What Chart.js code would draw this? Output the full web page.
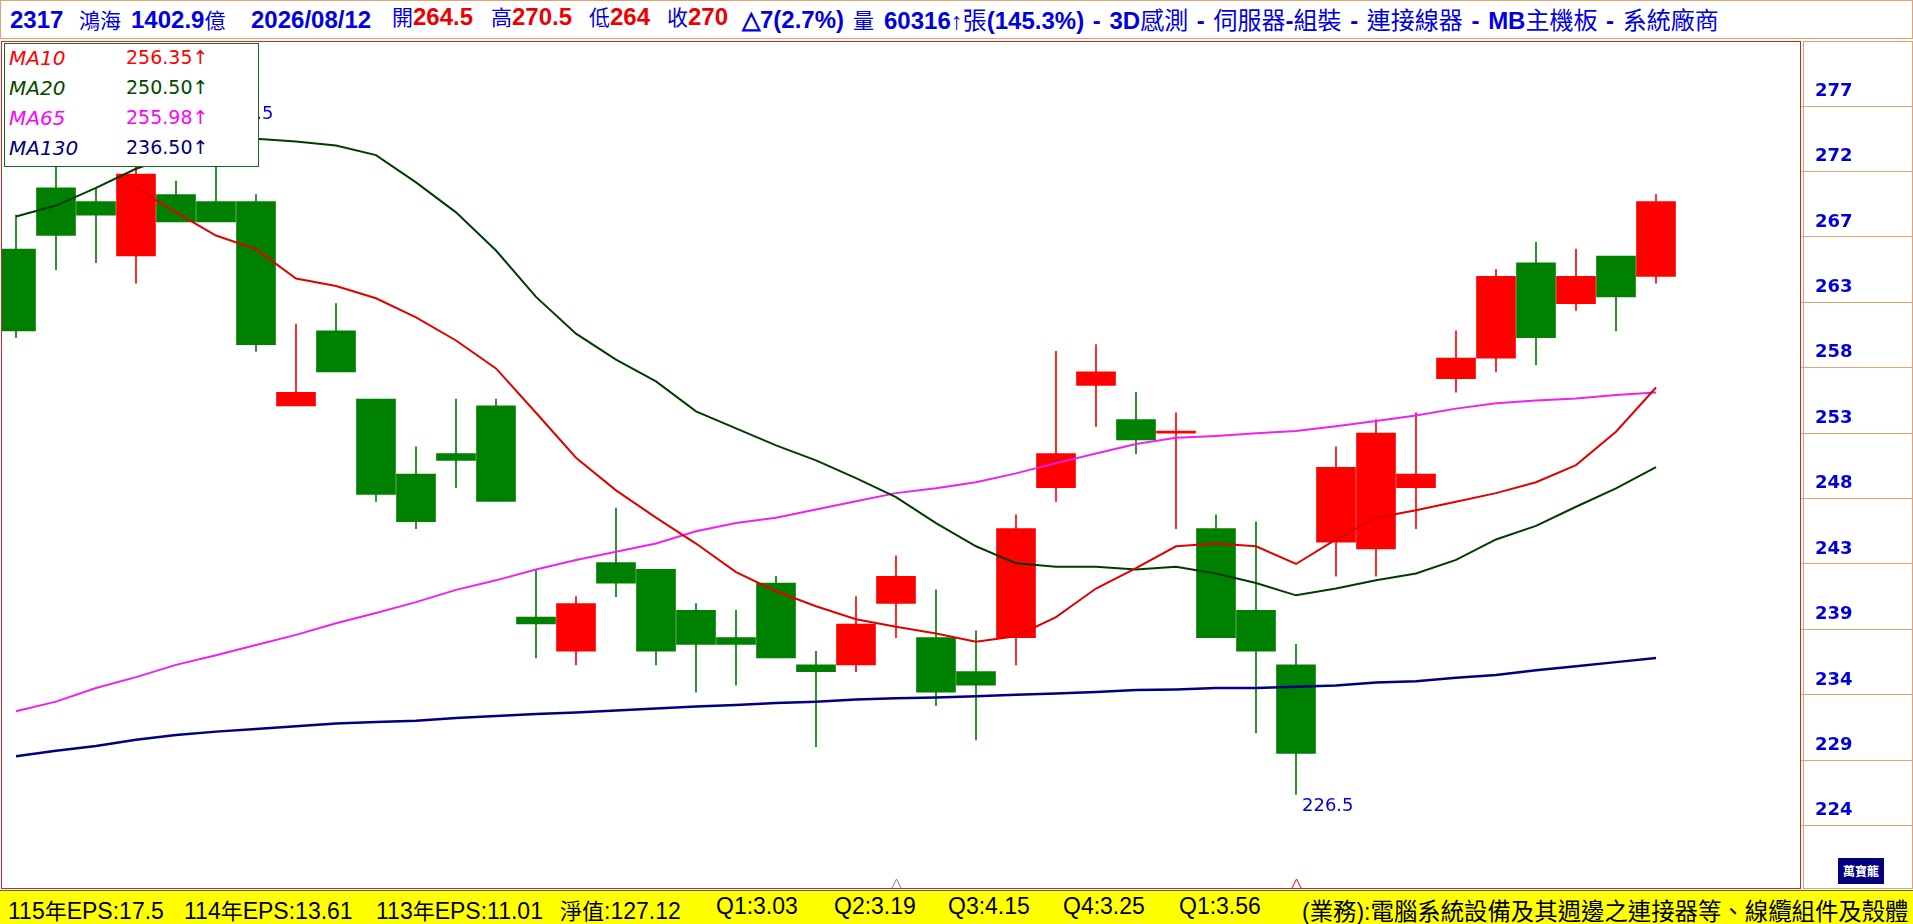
<!DOCTYPE html>
<html>
<head>
<meta charset="utf-8">
<script src="https://cdn.jsdelivr.net/npm/chart.js@4.4.1/dist/chart.umd.min.js"></script>
<style>
  html, body { margin: 0; padding: 0; background: #fff; }
  body { position: relative; width: 1913px; height: 924px; overflow: hidden; }
  #head { position: absolute; left: 0; top: 0; width: 1911px; height: 37px; border: 1px solid #e8a070; }
  #head > span { position: absolute; top: 0; line-height: 37px; white-space: pre; color: #0000e0; }
  .b { font: bold 24px "Liberation Sans", Arial, sans-serif; }
  .k { font: 21px "Noto Sans CJK TC", sans-serif; }
  .tail { word-spacing: 2px; }
  .tail .k { font-size: 24px; }
  .r { color: #ee0000; }
  #wrap { position: absolute; left: 0; top: 40px; width: 1913px; height: 850px; }
  #box { position: absolute; left: 1px; top: 41px; width: 1798px; height: 846px; border: 1px solid #c82828; pointer-events: none; }
  #axisbox { position: absolute; left: 1803px; top: 41px; width: 108px; height: 846px; border: 1px solid #e8a070; pointer-events: none; }
  #logo { position: absolute; left: 1838px; top: 858px; width: 46px; height: 26px; background: #000080; color: #fff;
          font: bold 12px "Noto Sans CJK TC", sans-serif; line-height: 26px; text-align: center; }
  #legend { position: absolute; left: 4px; top: 43px; width: 253px; height: 122px; border: 1px solid #1a6a1a; background: #fff; }
  #legend div { position: absolute; left: 0; height: 26px; line-height: 26px; width: 250px; white-space: pre; }
  #legend i { position: absolute; left: 4px; font: italic 20px "DejaVu Sans", sans-serif; }
  #legend b { position: absolute; left: 121px; font: 19px "DejaVu Sans", sans-serif; }
  #foot { position: absolute; left: 0; top: 890px; width: 1913px; height: 34px; background: #ffff00; border-top: 1px solid #606060; }
  #foot > span { position: absolute; top: 2px; line-height: 32px; white-space: pre; color: #000; font: 23px "Liberation Sans", Arial, sans-serif; }
  #foot .k { font: 22px "Noto Sans CJK TC", sans-serif; }
  #foot .biz .k { font-size: 23.4px; }
</style>
</head>
<body>
<div id="head">
  <span class="b" style="left:9px">2317</span>
  <span class="k" style="left:78px">鴻海</span>
  <span class="b" style="left:130px">1402.9<span class="k">億</span></span>
  <span class="b" style="left:250px">2026/08/12</span>
  <span style="left:391px"><span class="k">開</span><span class="b r">264.5</span></span>
  <span style="left:490px"><span class="k">高</span><span class="b r">270.5</span></span>
  <span style="left:588px"><span class="k">低</span><span class="b r">264</span></span>
  <span style="left:666px"><span class="k">收</span><span class="b r">270</span></span>
  <span class="b r" style="left:741px">△7(2.7%)</span>
  <span class="k" style="left:852px">量</span>
  <span class="tail" style="left:883px"><span class="b">60316↑</span><span class="k">張</span><span class="b">(145.3%) - 3D</span><span class="k">感測</span><span class="b"> - </span><span class="k">伺服器</span><span class="b">-</span><span class="k">組裝</span><span class="b"> - </span><span class="k">連接線器</span><span class="b"> - MB</span><span class="k">主機板</span><span class="b"> - </span><span class="k">系統廠商</span></span>
</div>

<div id="wrap"><canvas id="kchart" width="1913" height="850"></canvas></div>
<div id="box"></div>
<div id="axisbox"></div>
<div id="logo">萬寶龍</div>
<div id="legend"></div>

<div id="foot">
  <span style="left:8px">115<span class="k">年</span>EPS:17.5</span>
  <span style="left:184px">114<span class="k">年</span>EPS:13.61</span>
  <span style="left:376px">113<span class="k">年</span>EPS:11.01</span>
  <span style="left:560px"><span class="k">淨值</span>:127.12</span>
  <span style="left:716px">Q1:3.03</span>
  <span style="left:834px">Q2:3.19</span>
  <span style="left:948px">Q3:4.15</span>
  <span style="left:1063px">Q4:3.25</span>
  <span style="left:1179px">Q1:3.56</span>
  <span class="biz" style="left:1302px">(<span class="k">業務</span>):<span class="k">電腦系統設備及其週邊之連接器等、線纜組件及殼體</span></span>
</div>

<script>
// daily candles, oldest first
const opens  = [266.5, 271, 270, 266, 270.5, 270, 270, 255, 260.5, 255.5,
                250, 251.5, 255, 239.5, 237, 243.5, 243, 240, 238, 242,
                236, 236, 240.5, 238, 235.5, 238, 249, 256.5, 254, 253,
                246, 240, 236, 245, 244.5, 249, 257, 258.5, 265.5, 262.5,
                266, 264.5];
const highs  = [269, 273, 271, 272.5, 271.5, 275.5, 270.5, 261, 262.5, 255.5,
                252, 255.5, 255.5, 243, 241, 247.5, 243, 240.5, 240, 242.5,
                237, 241, 244, 241.5, 238.5, 247, 259, 259.5, 256, 254.5,
                247, 246.5, 237.5, 252, 254, 254.5, 260.5, 265, 267, 266.5,
                266, 270.5];
const lows   = [260, 265, 265.5, 264, 268.5, 268.5, 259, 255, 257.5, 248,
                246, 249, 248, 236.5, 236, 241, 236, 234, 234.5, 236.5,
                230, 235.5, 238, 233, 230.5, 236, 248, 253.5, 251.5, 246,
                238, 231, 226.5, 242.5, 242.5, 246, 256, 257.5, 258, 262,
                260.5, 264];
const closes = [260.5, 267.5, 269, 272, 268.5, 268.5, 259.5, 256, 257.5, 248.5,
                246.5, 251, 248, 239, 240.5, 242, 237, 237.5, 237.5, 236.5,
                235.5, 239, 242.5, 234, 234.5, 246, 251.5, 257.5, 252.5, 253,
                238, 237, 229.5, 250.5, 253, 250, 258.5, 264.5, 260, 264.5,
                263, 270];

// moving averages
const ma10  = [null, null, null, 271.0, 269.2, 267.5, 266.5, 264.35, 263.8, 262.9,
               261.5, 259.8, 257.75, 254.5, 251.2, 248.8, 246.8, 244.9, 242.8, 241.4,
               240.3, 239.35, 238.8, 238.3, 237.7, 238.1, 239.5, 241.6, 243.1, 244.7,
               244.9, 244.7, 243.4, 245.2, 246.8, 247.35, 247.97, 248.6, 249.4, 250.66,
               253.1, 256.35];
const ma20  = [268.9, 269.7, 271.0, 272.4, 273.4, 274.2, 274.6, 274.4, 274.1, 273.4,
               271.4, 269.2, 266.4, 263.0, 260.3, 258.4, 256.8, 254.6, 253.35, 252.1,
               251.0, 249.7, 248.3, 246.4, 244.7, 243.45, 243.2, 243.2, 243.0, 243.2,
               242.7, 242.0, 241.1, 241.6, 242.2, 242.7, 243.7, 245.2, 246.2, 247.6,
               248.95, 250.5];
const ma65  = [232.6, 233.3, 234.3, 235.1, 236.0, 236.7, 237.45, 238.2, 239.05, 239.8,
               240.6, 241.5, 242.2, 243.0, 243.7, 244.3, 244.9, 245.8, 246.4, 246.8,
               247.4, 248.0, 248.6, 248.95, 249.4, 250.05, 250.8, 251.5, 252.2, 252.66,
               252.8, 253.0, 253.15, 253.5, 253.9, 254.3, 254.8, 255.2, 255.4, 255.55,
               255.8, 255.98];
const ma130 = [229.3, 229.7, 230.05, 230.5, 230.85, 231.1, 231.3, 231.5, 231.7, 231.8,
               231.9, 232.1, 232.25, 232.4, 232.5, 232.65, 232.8, 232.95, 233.05, 233.2,
               233.3, 233.45, 233.55, 233.6, 233.7, 233.8, 233.9, 234.0, 234.15, 234.2,
               234.3, 234.3, 234.4, 234.48, 234.7, 234.8, 235.06, 235.26, 235.6, 235.9,
               236.2, 236.5];

const yTickVals   = [224.2, 229.0, 233.8, 238.6, 243.4, 248.2, 253.0, 257.8, 262.6, 267.4, 272.2, 277.0];
const yTickLabels = ['224', '229', '234', '239', '243', '248', '253', '258', '263', '267', '272', '277'];

// quarter marks under the candles
const markIdx    = [23, 33];
const markColors = ['#808080', '#ff0000'];

// x range: candle 1 sits half cut at the left edge, room left after the last one
const X_MIN = 0.65, X_MAX = 45.6;

const maLines = [
  { name: 'MA10',  data: ma10,  color: '#e00000', text: '#ff0000' },
  { name: 'MA20',  data: ma20,  color: '#003c00', text: '#004a00' },
  { name: 'MA65',  data: ma65,  color: '#f020f0', text: '#ff00ff' },
  { name: 'MA130', data: ma130, color: '#000080', text: '#000080' }
];

const xs = closes.map((c, i) => i + 1);
const candleCol = closes.map((c, i) => c >= opens[i] ? '#ff0000' : '#008000');

// legend box
const legend = document.getElementById('legend');
maLines.forEach((m, i) => {
  const row = document.createElement('div');
  row.style.top = (2 + i * 30) + 'px';
  row.style.color = m.text;
  const last = m.data[m.data.length - 1];
  row.innerHTML = '<i>' + m.name + '</i><b>' + last.toFixed(2) + '↑</b>';
  legend.appendChild(row);
});

const extraDraw = {
  id: 'extraDraw',
  afterDatasetsDraw(chart) {
    const { ctx, chartArea, scales: { x, y } } = chart;
    let hi = 0, lo = 0;
    highs.forEach((v, i) => { if (v > highs[hi]) hi = i; });
    lows.forEach((v, i) => { if (v < lows[lo]) lo = i; });
    ctx.save();
    ctx.font = '18px "DejaVu Sans"';
    ctx.fillStyle = '#0000dd';
    ctx.textAlign = 'left';
    ctx.textBaseline = 'bottom';
    ctx.fillText(highs[hi].toFixed(1), x.getPixelForValue(hi + 1) + 6, y.getPixelForValue(highs[hi]) - 3);
    ctx.textBaseline = 'top';
    ctx.fillText(lows[lo].toFixed(1), x.getPixelForValue(lo + 1) + 6, y.getPixelForValue(lows[lo]) + 3);

    ctx.lineWidth = 1;
    markIdx.forEach((k, i) => {
      const px = Math.round(x.getPixelForValue(k)) + 0.5;
      const b = chartArea.bottom + 1;
      ctx.strokeStyle = markColors[i];
      ctx.beginPath();
      ctx.moveTo(px - 4.5, b);
      ctx.lineTo(px, b - 9);
      ctx.lineTo(px + 4.5, b);
      ctx.stroke();
    });
    ctx.restore();
  }
};

const datasets = [
  {
    type: 'bar', label: 'wick', order: 3, grouped: false,
    data: xs.map((x, i) => ({ x, y: [lows[i], highs[i]] })),
    backgroundColor: candleCol, barThickness: 1
  },
  {
    type: 'bar', label: 'body', order: 2, grouped: false,
    data: xs.map((x, i) => ({ x, y: [opens[i], closes[i]] })),
    backgroundColor: candleCol, barThickness: 39, minBarLength: 2
  }
];
maLines.forEach(m => {
  datasets.push({
    type: 'line', label: m.name, order: 1,
    data: xs.map((x, i) => ({ x, y: m.data[i] })),
    borderColor: m.color, borderWidth: m.name === 'MA130' ? 2.5 : 2,
    pointRadius: 0, tension: 0, fill: false
  });
});

new Chart(document.getElementById('kchart'), {
  data: { datasets },
  plugins: [extraDraw],
  options: {
    responsive: false,
    animation: false,
    layout: { padding: { left: 2, top: 2, bottom: 3, right: 0 } },
    plugins: { legend: { display: false }, tooltip: { enabled: false } },
    scales: {
      x: {
        type: 'linear', min: X_MIN, max: X_MAX, offset: false, bounds: 'data', grace: 0, display: false,
        afterBuildTicks(s) { s.min = X_MIN; s.max = X_MAX; }
      },
      y: {
        position: 'right', min: 219.7, max: 281.7,
        afterFit(s) { s.width = 113; },
        afterBuildTicks(s) { s.ticks = yTickVals.map(v => ({ value: v })); },
        grid: { drawOnChartArea: false, drawTicks: true, tickLength: 113, tickColor: '#e8a070', color: '#e8a070' },
        border: { display: false },
        ticks: {
          autoSkip: false, padding: -98, labelOffset: -15,
          color: '#0000dd', font: { family: 'DejaVu Sans', size: 18, weight: 'bold' },
          callback: (v, i) => yTickLabels[i]
        }
      }
    }
  }
});
</script>
</body>
</html>
